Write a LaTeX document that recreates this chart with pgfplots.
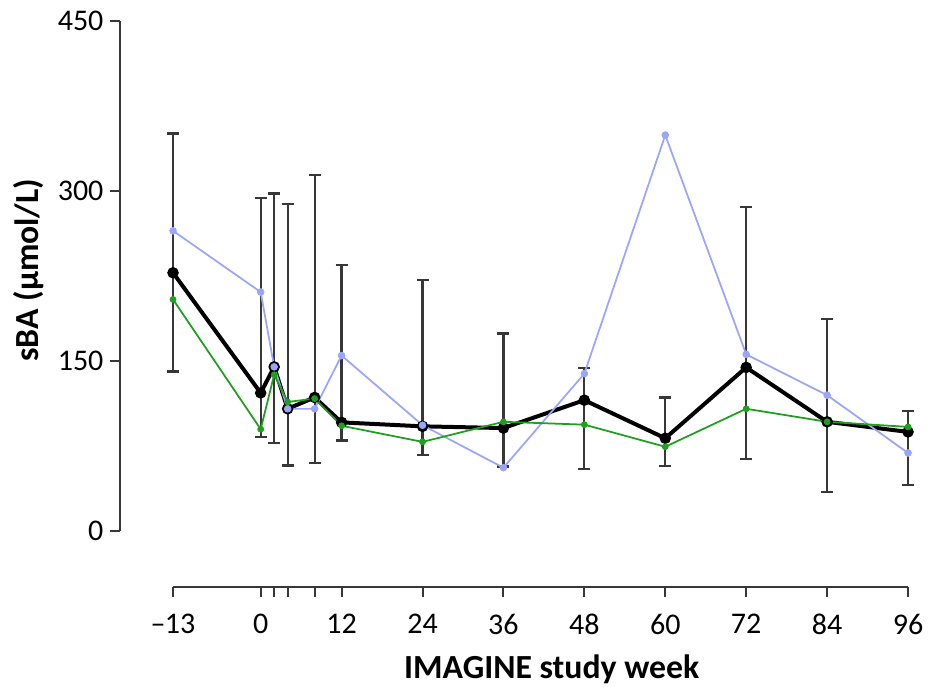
\documentclass[border=0pt]{standalone}
\usepackage{fontspec}
\setmainfont{Carlito}
\usepackage{pgfplots}
\pgfplotsset{compat=1.18}
\definecolor{lilac}{RGB}{155,165,250}
\definecolor{grn}{RGB}{30,160,30}
\definecolor{axgray}{RGB}{55,55,55}

% all patients: median with error range
\pgfplotstableread{
x   y     ep     em
-13 228   123    87
0   122   172    39
2   145   153    67
4   108   181    50
8   118   196    58
12  96    139    16
24  92.5  129    25.5
36  91    83.5   34
48  115.6 28.4   60.6
60  82    36     24.6
72  144.5 141.5  80.5
84  96.5  90.5   61.8
96  87.6  18.4   47
}\medall

\pgfplotstableread{
x   y
-13 265
0   211
2   145
4   108
8   108
12  155
24  93.5
36  56
48  139
60  349.5
72  156
84  120
96  69
}\bluedata

\pgfplotstableread{
x   y
-13 204.5
0   90
2   138
4   114
8   117
12  93
24  78.8
36  96.5
48  94
60  74.5
72  108
84  96.5
96  92
}\greendata

\begin{document}
\begin{tikzpicture}
\begin{axis}[
    x=2.697pt, y=0.4533pt,
    xmin=-20.9, xmax=96, ymin=-49.4, ymax=450,
    axis x line*=bottom, axis y line*=left,
    axis line style={-, axgray, line width=0.8pt},
    x axis line style={shorten <=21.3pt},
    y axis line style={shorten <=22.4pt},
    tick align=outside, major tick length=4pt,
    tick style={axgray, line width=0.8pt},
    xtick={-13,0,2,4,8,12,24,36,48,60,72,84,96},
    xticklabels={{\textendash\kern-0.3pt13},0,{},{},{},12,24,36,48,60,72,84,96},
    ytick={0,150,300,450},
    yticklabels={0,150,300,450},
    minor tick num=0,
    ticklabel style={font=\fontsize{12}{14}\selectfont},
    xticklabel style={yshift=-3.2pt},
    yticklabel style={xshift=1pt},
    xlabel={\textbf{IMAGINE study week}},
    ylabel={\textbf{sBA (µmol/L)}},
    xlabel style={at={(axis description cs:0.548,-0.145)}, anchor=center},
    ylabel style={at={(axis description cs:-0.115,0.56)}, anchor=center, rotate=0},
    label style={font=\fontsize{13.5}{16}\selectfont},
    clip=false,
]
% error bars behind everything
\addplot[draw=none, mark=none, forget plot,
    error bars/.cd, y dir=both, y explicit,
    error bar style={line width=0.9pt, axgray},
    error mark options={rotate=90, mark size=2.4pt, line width=0.9pt, axgray}]
    table[x=x, y=y, y error plus=ep, y error minus=em] {\medall};
\addplot[black, line width=1.6pt, mark=*, mark size=2.1pt,
    mark options={solid, line width=0.4pt}] table[x=x, y=y] {\medall};
\addplot[lilac, line width=0.7pt, mark=*, mark size=1.35pt,
    mark options={solid, line width=0.3pt}] table[x=x, y=y] {\bluedata};
\addplot[grn, line width=0.7pt, mark=*, mark size=1.2pt,
    mark options={solid, line width=0.3pt}] table[x=x, y=y] {\greendata};
\coordinate (bbsw) at (axis cs:-38.66,-136.8);
\coordinate (bbne) at (axis cs:99.26,468.7);
\end{axis}
\pgfresetboundingbox
\path[use as bounding box] (bbsw) rectangle (bbne);
\end{tikzpicture}
\end{document}
